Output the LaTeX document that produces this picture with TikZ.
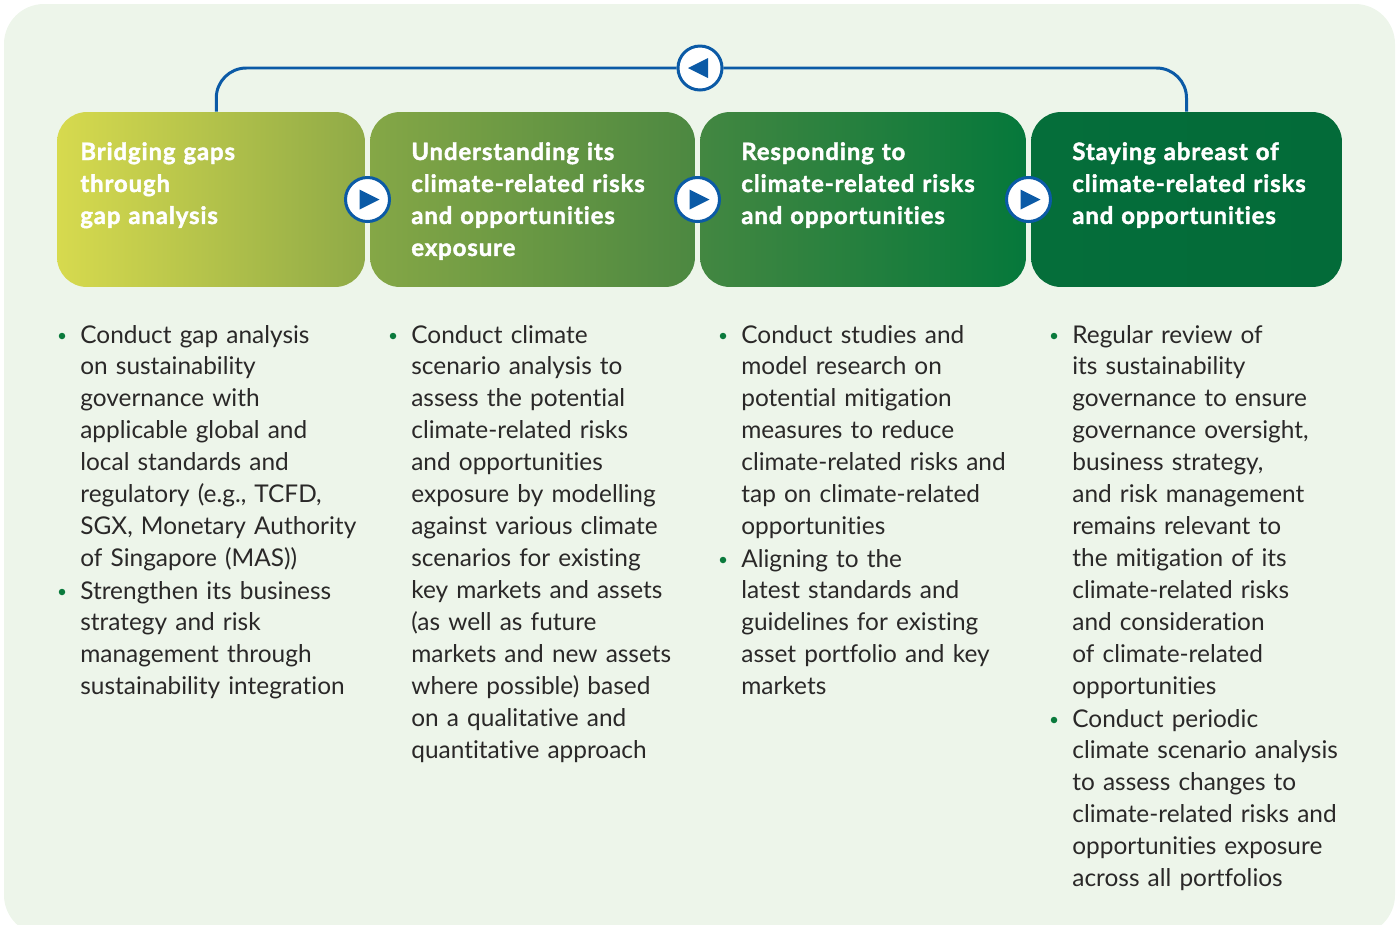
\documentclass[tikz,border=0pt]{standalone}
\usepackage{fontspec}
\setmainfont{Lato}[Ligatures=NoCommon]
\newfontfamily\headfont{Lato}[Ligatures=NoCommon, BoldFeatures={FakeBold=1.8,LetterSpace=3.8}]
\usepackage{tikz}
\usetikzlibrary{positioning}
\usetikzlibrary{calc}

\definecolor{bgpale}{HTML}{EDF5EA}
\definecolor{s1a}{HTML}{D7DA4E}
\definecolor{s1b}{HTML}{8FAA47}
\definecolor{s2a}{HTML}{85A746}
\definecolor{s2b}{HTML}{4C8841}
\definecolor{s3a}{HTML}{438741}
\definecolor{s3b}{HTML}{05783B}
\definecolor{s4a}{HTML}{056E3A}
\definecolor{s4b}{HTML}{036B39}
\definecolor{btnblue}{HTML}{0B5AA6}
\definecolor{inkgrey}{HTML}{2A2828}
\definecolor{dotgreen}{HTML}{0A7A3C}

\begin{document}
\begin{tikzpicture}[
    x=0.02cm, y=-0.02cm,
    font=\fontsize{13.9pt}{18.2pt}\selectfont,
    % stage boxes and their texts
    stage/.style={rectangle, rounded corners=0.6cm, minimum height=3.5cm, inner sep=0pt},
    head/.style={anchor=base west, text width=6.2cm, align=left, inner sep=0pt, text=white,
                 font=\fontsize{13.6pt}{18.2pt}\selectfont\headfont\bfseries},
    body/.style={anchor=base west, text width=6.4cm, align=left, inner sep=0pt, text=inkgrey},
    dot/.style={circle, fill=dotgreen, minimum size=0.13cm, inner sep=0pt},
    play/.style={circle, draw=btnblue, line width=1.7pt, fill=white, minimum size=0.88cm, inner sep=0pt},
    loopline/.style={draw=btnblue, line width=1.7pt, rounded corners=0.6cm},
]
\useasboundingbox (0,0) rectangle (1399,924);
\fill[bgpale, rounded corners=0.8cm] (4,4) rectangle (1395,935);

% =========================================================
% Stage boxes
% =========================================================
\node[stage, minimum width=6.16cm, left color=s1a, right color=s1b] (h1) at (211,199.5) {};
\node[stage, minimum width=6.50cm, left color=s2a, right color=s2b] (h2) at (532.5,199.5) {};
\node[stage, minimum width=6.52cm, left color=s3a, right color=s3b] (h3) at (863,199.5) {};
\node[stage, minimum width=6.22cm, left color=s4a, right color=s4b] (h4) at (1186.5,199.5) {};

\node[head] (t1) at (80,160)   {Bridging gaps\\ through\\ gap analysis};
\node[head] (t2) at (411,160)  {Understanding its\\ climate-related risks\\ and opportunities\\ exposure};
\node[head] (t3) at (741,160)  {Responding to\\ climate-related risks\\ and opportunities};
\node[head] (t4) at (1072,160) {Staying abreast of\\ climate-related risks\\ and opportunities};

% =========================================================
% Flow buttons
% =========================================================
\node[play] (ret) at (700,68) {};
\draw[loopline] ([xshift=3]h1.north) |- (ret.west);
\draw[loopline] (ret.east) -| (h4.north);

\node[play] (p12) at ($(h1.east)!0.5!(h2.west)$) {};
\node[play] (p23) at ($(h2.east)!0.5!(h3.west)$) {};
\node[play] (p34) at ($(h3.east)!0.5!(h4.west)$) {};

\fill[btnblue] ([shift={(8,-10)}]ret.center) -- ([shift={(-12,0)}]ret.center) -- ([shift={(8,10)}]ret.center) -- cycle;
\fill[btnblue] ([shift={(-8,-10)}]p12.center) -- ([shift={(12,0)}]p12.center) -- ([shift={(-8,10)}]p12.center) -- cycle;
\fill[btnblue] ([shift={(-8,-10)}]p23.center) -- ([shift={(12,0)}]p23.center) -- ([shift={(-8,10)}]p23.center) -- cycle;
\fill[btnblue] ([shift={(-8,-10)}]p34.center) -- ([shift={(12,0)}]p34.center) -- ([shift={(-8,10)}]p34.center) -- cycle;

% =========================================================
% Bullet lists (one node per item)
% =========================================================
\node[body] (b1a) at (80,343) {Conduct gap analysis\\ on sustainability\\ governance with\\ applicable global and\\ local standards and\\ regulatory (e.g., TCFD,\\ SGX, Monetary Authority\\ of Singapore (MAS))};
\node[body] (b1b) at (80,599) {Strengthen its business\\ strategy and risk\\ management through\\ sustainability integration};

\node[body] (b2a) at (411,343) {Conduct climate\\ scenario analysis to\\ assess the potential\\ climate-related risks\\ and opportunities\\ exposure by modelling\\ against various climate\\ scenarios for existing\\ key markets and assets\\ (as well as future\\ markets and new assets\\ where possible) based\\ on a qualitative and\\ quantitative approach};

\node[body] (b3a) at (741,343) {Conduct studies and\\ model research on\\ potential mitigation\\ measures to reduce\\ climate-related risks and\\ tap on climate-related\\ opportunities};
\node[body] (b3b) at (741,567) {Aligning to the\\ latest standards and\\ guidelines for existing\\ asset portfolio and key\\ markets};

\node[body] (b4a) at (1072,343) {Regular review of\\ its sustainability\\ governance to ensure\\ governance oversight,\\ business strategy,\\ and risk management\\ remains relevant to\\ the mitigation of its\\ climate-related risks\\ and consideration\\ of climate-related\\ opportunities};
\node[body] (b4b) at (1072,727) {Conduct periodic\\ climate scenario analysis\\ to assess changes to\\ climate-related risks and\\ opportunities exposure\\ across all portfolios};

% bullets
\node[dot] (d1a) at ([shift={(-18,-7)}]b1a.base west) {};
\node[dot] (d1b) at ([shift={(-18,-7)}]b1b.base west) {};
\node[dot] (d2a) at ([shift={(-18,-7)}]b2a.base west) {};
\node[dot] (d3a) at ([shift={(-18,-7)}]b3a.base west) {};
\node[dot] (d3b) at ([shift={(-18,-7)}]b3b.base west) {};
\node[dot] (d4a) at ([shift={(-18,-7)}]b4a.base west) {};
\node[dot] (d4b) at ([shift={(-18,-7)}]b4b.base west) {};

\end{tikzpicture}
\end{document}
